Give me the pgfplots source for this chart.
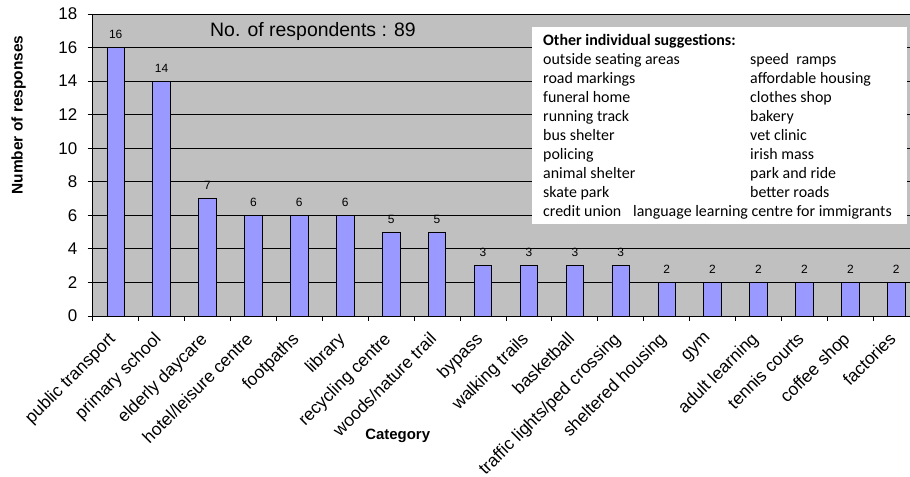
\documentclass[border=0pt]{standalone}
\usepackage{pgfplots}
\pgfplotsset{compat=1.18}
\usepackage{fontspec}
\setmainfont{Liberation Sans}
\newfontfamily\carlito{Carlito}
\definecolor{plotgray}{HTML}{C0C0C0}
\definecolor{barblue}{HTML}{9999FF}
\begin{document}
\begin{tikzpicture}[x=1bp,y=1bp]
\begin{axis}[
  at={(0,0)}, anchor=south west,
  scale only axis, width=817.3bp, height=302bp,
  xmin=-0.5, xmax=17.3, ymin=0, ymax=18,
  ytick={0,2,...,18},
  xtick={0,...,17},
  xticklabels={public transport, primary school, elderly daycare, hotel/leisure centre, footpaths, library, recycling centre, woods/nature trail, bypass, walking trails, basketball, traffic lights/ped crossing, sheltered housing, gym, adult learning, tennis courts, coffee shop, factories},
  minor xtick={-0.5,0.5,...,16.5},
  axis x line*=bottom, axis y line*=left,
  axis line style={black, line width=0.8bp},
  ymajorgrids, major grid style={black, line width=0.8bp},
  major tick length=5bp, minor tick length=5bp,
  tick align=outside,
  tick style={black, line width=0.8bp},
  major x tick style={draw=none},
  axis background/.style={fill=plotgray},
  /pgf/number format/assume math mode=true,
  yticklabel style={font=\fontsize{17}{19}\selectfont, xshift=-7bp},
  xticklabel style={font=\fontsize{17.5}{19}\selectfont, inner sep=0pt, xshift=-8.5bp, yshift=-10bp, rotate=45, anchor=north east},
  ybar, bar width=17.5bp,
  nodes near coords,
  every node near coord/.append style={font=\fontsize{12}{14}\selectfont, inner sep=0pt, yshift=8.5bp, black},
]
\addplot[fill=barblue, draw=black, line width=0.8bp] coordinates {(0,16) (1,14) (2,7) (3,6) (4,6) (5,6) (6,5) (7,5) (8,3) (9,3) (10,3) (11,3) (12,2) (13,2) (14,2) (15,2) (16,2) (17,2)};
\end{axis}
% text box
\draw[fill=white, draw=none] (439.3,92) rectangle (814.3,289);
\begin{scope}[every node/.style={anchor=base west, inner sep=0pt, font=\carlito\fontsize{16}{19}\selectfont}]
\node at (450.3,270) {\bfseries Other individual suggestions:};
\node at (450.3,251) {outside seating areas};
\node at (450.3,232) {road markings};
\node at (450.3,213) {funeral home};
\node at (450.3,194) {running track};
\node at (450.3,175) {bus shelter};
\node at (450.3,156) {policing};
\node at (450.3,137) {animal shelter};
\node at (450.3,118) {skate park};
\node at (450.3,99) {credit union};
\node at (657.3,251) {speed\ \ ramps};
\node at (657.3,232) {affordable housing};
\node at (657.3,213) {clothes shop};
\node at (657.3,194) {bakery};
\node at (657.3,175) {vet clinic};
\node at (657.3,156) {irish mass};
\node at (657.3,137) {park and ride};
\node at (657.3,118) {better roads};
\node at (540.3,99) {language learning centre for immigrants};
\end{scope}
\node[anchor=base west, inner sep=0pt, font=\fontsize{19.5}{22}\selectfont] at (117.3,279.3) {No. of respondents : 89};
\node[rotate=90, font=\bfseries\fontsize{15.5}{18}\selectfont] at (-74,201) {Number of responses};
\node[font=\bfseries\fontsize{15}{18}\selectfont] at (305,-120) {Category};
\pgfresetboundingbox
\path[use as bounding box] (-92.7,-161) rectangle (817.3,316);
\end{tikzpicture}
\end{document}
